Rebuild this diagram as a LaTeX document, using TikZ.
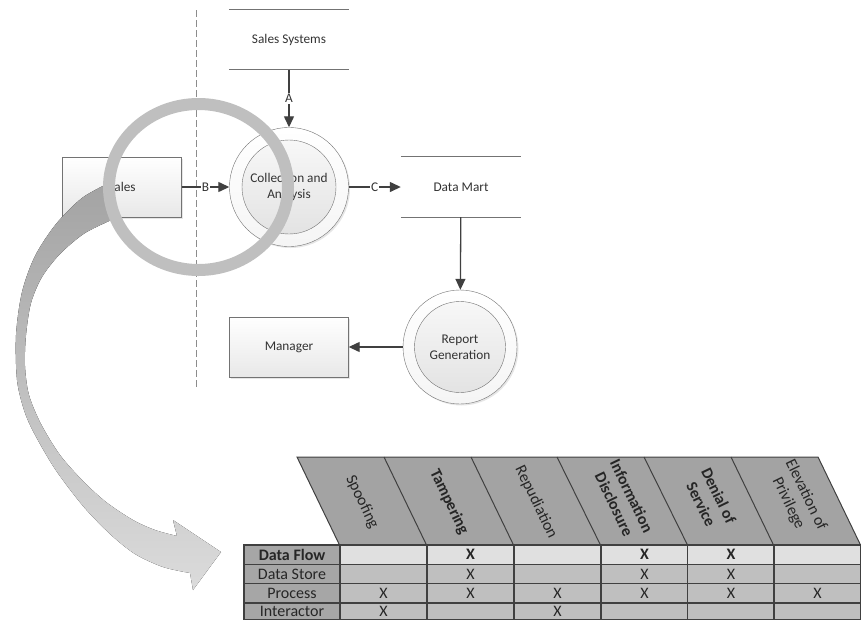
\documentclass[tikz,border=0pt]{standalone}
\usepackage{fontspec}
\setmainfont{Carlito}
\usepackage{tikz}
\usetikzlibrary{shapes.geometric, positioning, arrows.meta, calc, shadows}

\newcommand{\dfdfont}{\fontsize{13.3}{16}\selectfont}
\newcommand{\tabfont}{\fontsize{16}{19.5}\selectfont}

\begin{document}
\begin{tikzpicture}[
    x=1pt, y=-1pt,
    external/.style={rectangle, draw=black!55, minimum width=119pt, minimum height=60pt, top color=white, bottom color=black!9, drop shadow={opacity=0.2, shadow xshift=1.5pt, shadow yshift=-1.5pt}, font=\dfdfont, text=black!80},
    processout/.style={circle, draw=black!55, top color=white, bottom color=black!4, drop shadow={opacity=0.2, shadow xshift=1.5pt, shadow yshift=-1.5pt}},
    processin/.style={circle, draw=black!55, top color=black!3, bottom color=black!11, align=center, font=\dfdfont, text=black!80},
    store/.style={rectangle, minimum width=120pt, minimum height=60pt, inner sep=0pt, font=\dfdfont, text=black!80},
    storeline/.style={draw=black!55, line width=0.8pt},
    flow/.style={draw=black!75, line width=1.3pt, -{Triangle[length=11pt, width=10pt]}},
    flowlabel/.style={fill=white, inner sep=1pt, font=\dfdfont, text=black!80},
    boundary/.style={draw=black!45, line width=1pt, dash pattern=on 7pt off 3pt},
    lens/.style={draw=black!25, line width=12pt},
    band/.style={top color=black!36, bottom color=black!14},
    header/.style={fill=black!36, draw=black!75, line width=1pt},
    headerline/.style={draw=black!75, line width=1pt},
    threat/.style={rotate=-64.2, align=center, font=\tabfont, text=black!85},
    rowhead/.style={rectangle, draw=black!75, line width=1.2pt, fill=black!35, minimum width=96pt, minimum height=19.3pt, inner sep=0pt, font=\tabfont, text=black!85},
    cell/.style={rectangle, draw=black!75, line width=1.2pt, fill=black!25, minimum width=87pt, minimum height=19.3pt, inner sep=0pt, font=\tabfont, text=black!85},
    flowcell/.style={cell, fill=black!12},
    lastrow/.style={minimum height=16.6pt}
]
    \useasboundingbox (0,0) rectangle (861,619);

    % Trust boundary
    \draw[boundary] (196,10) -- (196,388);

    % Externals
    \node[external] (sales) at (122,187) {Sales};
    \node[external] (manager) at (289,347) {Manager};

    % Processes
    \node[processout, minimum size=119pt] (collect) at (289,187) {};
    \node[processin, minimum size=94pt] (collectin) at (289,187) {Collection and\\Analysis};
    \node[processout, minimum size=114pt] (report) at (460,347) {};
    \node[processin, minimum size=91pt] (reportin) at (460,347) {Report\\Generation};

    % Data stores
    \node[store] (salessys) at (289,39.5) {Sales Systems};
    \draw[storeline] (salessys.north west) -- (salessys.north east);
    \draw[storeline] (salessys.south west) -- (salessys.south east);
    \node[store] (datamart) at (461,187) {Data Mart};
    \draw[storeline] (datamart.north west) -- (datamart.north east);
    \draw[storeline] (datamart.south west) -- (datamart.south east);

    % Data flows
    \draw[flow] (salessys) -- (collect) node[flowlabel, midway] {A};
    \draw[flow] (sales) -- (collect) node[flowlabel, midway] {B};
    \draw[flow] (collect) -- (datamart) node[flowlabel, midway] {C};
    \draw[flow] (datamart) -- (report);
    \draw[flow] (report) -- (manager);

    % Zoom arrow and lens
    \fill[band] plot[smooth] coordinates {(109,183) (82,198) (56,224) (35,256) (22,292) (16,335) (17,380) (24,410) (34,433) (55,469) (83,506) (110,534) (135,554) (163,567) (190,573)}
        -- (193,590) -- (221,552) -- (173,520)
        -- plot[smooth] coordinates {(177,536) (155,530) (133,520) (106,502) (83,481) (60,455) (41,424) (29,395) (25,366) (26,335) (31,303) (42,277) (60,254) (85,233) (116,218)}
        -- cycle;
    \draw[lens] (198.5,187) ellipse [x radius=89.5, y radius=83];

    % STRIDE header
    \draw[header] (297,457) -- (818,457) -- (861,546) -- (340,546) -- cycle;
    \draw[headerline] (384,457) -- (427,546);
    \draw[headerline] (471,457) -- (514,546);
    \draw[headerline] (557,457) -- (601,546);
    \draw[headerline] (644,457) -- (688,546);
    \draw[headerline] (731,457) -- (774,546);

    \node[threat] (spoof) at (362,502) {Spoofing};
    \node[threat, font=\tabfont\bfseries] (tamper) at (449,502) {Tampering};
    \node[threat] (repud) at (536,502) {Repudiation};
    \node[threat, font=\tabfont\bfseries] (infodis) at (623,500) {Information\\Disclosure};
    \node[threat, font=\tabfont\bfseries] (dos) at (710,500) {Denial of\\Service};
    \node[threat] (elev) at (797,499) {Elevation of\\Privilege};

    % Row headers
    \node[rowhead, font=\tabfont\bfseries] (dflow) at (292,554.65) {Data Flow};
    \node[rowhead] (dstore) at (292,573.95) {Data Store};
    \node[rowhead] (proc) at (292,593.25) {Process};
    \node[rowhead, lastrow] (inter) at (292,611.2) {Interactor};

    % Data Flow row
    \node[flowcell] (dfs) at (383.5,554.65) {};
    \node[flowcell, font=\tabfont\bfseries] (dft) at (470.5,554.65) {X};
    \node[flowcell] (dfr) at (557.5,554.65) {};
    \node[flowcell, font=\tabfont\bfseries] (dfi) at (644.5,554.65) {X};
    \node[flowcell, font=\tabfont\bfseries] (dfd) at (731,554.65) {X};
    \node[flowcell] (dfe) at (817.5,554.65) {};

    % Data Store row
    \node[cell] (dss) at (383.5,573.95) {};
    \node[cell] (dst) at (470.5,573.95) {X};
    \node[cell] (dsr) at (557.5,573.95) {};
    \node[cell] (dsi) at (644.5,573.95) {X};
    \node[cell] (dsd) at (731,573.95) {X};
    \node[cell] (dse) at (817.5,573.95) {};

    % Process row
    \node[cell] (prs) at (383.5,593.25) {X};
    \node[cell] (prt) at (470.5,593.25) {X};
    \node[cell] (prr) at (557.5,593.25) {X};
    \node[cell] (pri) at (644.5,593.25) {X};
    \node[cell] (prd) at (731,593.25) {X};
    \node[cell] (pre) at (817.5,593.25) {X};

    % Interactor row
    \node[cell, lastrow] (ias) at (383.5,611.2) {X};
    \node[cell, lastrow] (iat) at (470.5,611.2) {};
    \node[cell, lastrow] (iar) at (557.5,611.2) {X};
    \node[cell, lastrow] (iai) at (644.5,611.2) {};
    \node[cell, lastrow] (iad) at (731,611.2) {};
    \node[cell, lastrow] (iae) at (817.5,611.2) {};

\end{tikzpicture}
\end{document}
